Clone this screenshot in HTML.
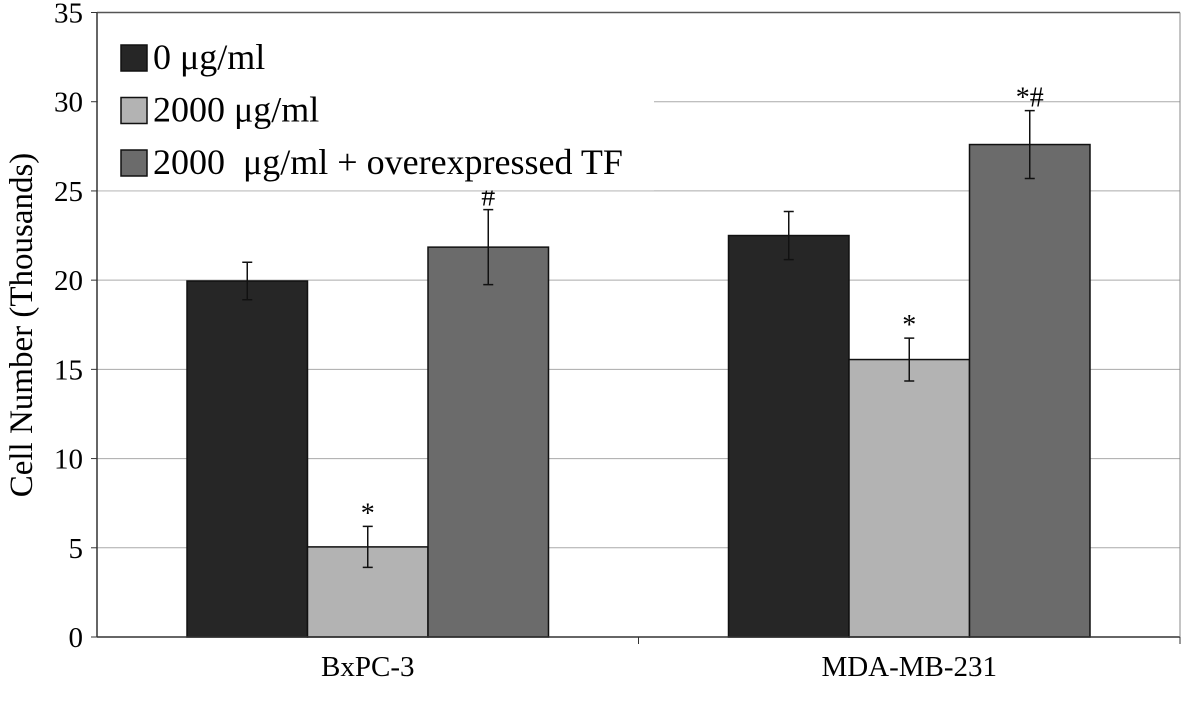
<!DOCTYPE html>
<html><head><meta charset="utf-8"><style>
body{margin:0;background:#fff}
svg{display:block;font-family:"Liberation Serif",serif}
</style></head><body>
<svg width="1181" height="702">
<g id="grid"></g><g id="bars"></g><g id="axes"></g><g id="legend"></g>
</svg>
<script>
const categories=["BxPC-3","MDA-MB-231"];
const seriesNames=["0 \u03bcg/ml","2000 \u03bcg/ml","2000  \u03bcg/ml + overexpressed TF"];
const values0=[19.95,22.5];
const values1=[5.05,15.55];
const values2=[21.85,27.6];
const errors0=[1.05,1.35];
const errors1=[1.15,1.2];
const errors2=[2.1,1.9];
const marks0=["",""];
const marks1=["*","*"];
const marks2=["#","*#"];
const yTicks=[0,5,10,15,20,25,30,35];
const colors=["#262626","#b3b3b3","#6b6b6b"];
const NS="http://www.w3.org/2000/svg";
const L=97,R=1180,T=12.5,B=637,YMAX=35;
const y=v=>B-(B-T)*v/YMAX;
const catW=(R-L)/categories.length;
const barW=120.5;
const xBar=(c,s)=>L+catW*c+catW/2-1.5*barW+s*barW;
function mk(t,a,p){const e=document.createElementNS(NS,t);for(const k in a)e.setAttribute(k,a[k]);(p||document.querySelector('svg')).appendChild(e);return e;}
const grid=document.getElementById('grid'),bars=document.getElementById('bars'),axes=document.getElementById('axes'),leg=document.getElementById('legend');
yTicks.forEach(t=>{
 if(t>0){const g=mk('line',{x1:L,x2:R,y1:y(t),y2:y(t),stroke:t==35?'#555':'#aaa','stroke-width':t==35?1.5:1},grid);
 }
 const tk=mk('line',{x1:L-6,x2:L,y1:y(t),y2:y(t),stroke:'#333'},axes);
 
 const tx=mk('text',{x:L-14,y:y(t)+10,'text-anchor':'end','font-size':29},axes);tx.textContent=t;
 
});
const lb=mk('rect',{x:L+1,y:T+2,width:556,height:176,fill:'#fff'},leg);

const vals=[values0,values1,values2],errs=[errors0,errors1,errors2],mks=[marks0,marks1,marks2];
categories.forEach((c,ci)=>{
 vals.forEach((vs,s)=>{
  const x=xBar(ci,s),v=vs[ci],e=errs[s][ci];
  const r=mk('rect',{x:x,y:y(v),width:barW,height:B-y(v),fill:colors[s],stroke:'#111','stroke-width':1.5},bars);
  
  const cx=x+barW/2;
  const el=mk('path',{d:`M${cx},${y(v+e)}V${y(v-e)}M${cx-5},${y(v+e)}H${cx+5}M${cx-5},${y(v-e)}H${cx+5}`,stroke:'#111','stroke-width':1.5,fill:'none'},bars);
  
  const m=mks[s][ci];
  if(m){const t=mk('text',{x:cx,y:y(v+e)-4,'text-anchor':'middle','font-size':28},bars);t.textContent=m;
  }
 });
 const lt=mk('text',{x:L+catW*ci+catW/2,y:676,'text-anchor':'middle','font-size':29},axes);lt.textContent=c;
 
 const tk=mk('line',{x1:L+catW*(ci+1),x2:L+catW*(ci+1),y1:B,y2:B+7,stroke:'#333'},axes);
 
});
const ya=mk('line',{x1:L,x2:L,y1:T,y2:B,stroke:'#333','stroke-width':1.5},axes);

const xa=mk('line',{x1:L,x2:R,y1:B,y2:B,stroke:'#333','stroke-width':1.5},axes);

const rb=mk('line',{x1:R,x2:R,y1:T,y2:B,stroke:'#888'},axes);

const yt=mk('text',{x:0,y:0,transform:'translate(32,325) rotate(-90)','text-anchor':'middle','font-size':33},axes);
yt.textContent='Cell Number (Thousands)';

seriesNames.forEach((n,i)=>{
 const yy=45+i*52.5;
 const sw=mk('rect',{x:121,y:yy,width:26,height:26,fill:colors[i],stroke:'#111','stroke-width':1.5},leg);
 
 const t=mk('text',{x:153,y:yy+24,'font-size':36},leg);t.textContent=n;t.setAttribute('xml:space','preserve');t.style.whiteSpace='pre';
 
});
</script>
</body></html>
